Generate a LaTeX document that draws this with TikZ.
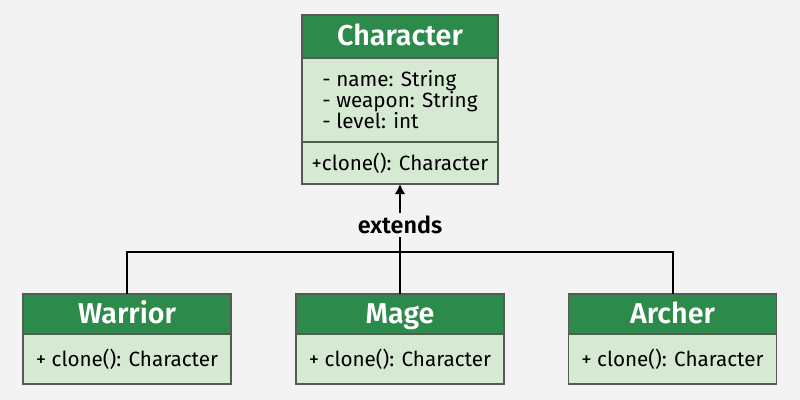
\documentclass[tikz,border=0pt]{standalone}
\usepackage{fontspec}
\setmainfont{Fira Sans}[BoldFont={Fira Sans SemiBold}]
\usepackage{tikz}
\usetikzlibrary{arrows.meta, positioning}

\definecolor{headgreen}{RGB}{44,138,74}
\definecolor{bodygreen}{RGB}{214,233,211}
\definecolor{edgegray}{RGB}{82,92,82}
\definecolor{pagebg}{RGB}{243,243,243}

\begin{document}
\begin{tikzpicture}[
        x=0.75pt, y=-0.75pt,
        node distance=0pt,
        head/.style={rectangle, draw=edgegray, fill=headgreen, line width=0.9pt, outer sep=0pt, text=white, text height=16pt, text depth=2pt, font=\fontsize{21.5}{24}\selectfont\bfseries},
        body/.style={rectangle, draw=edgegray, fill=bodygreen, line width=0.9pt, outer sep=0pt, align=left, font=\fontsize{15.5}{15.75}\selectfont},
        arrow/.style={-{Latex[length=7.5pt, width=8pt]}, line width=1.5pt},
        link/.style={line width=1.5pt}
    ]
    \useasboundingbox[fill=pagebg] (0,0) rectangle (800,400);

    % base class
    \node (charHead) [head, minimum width=147pt, minimum height=32.25pt] at (400,36.5) {Character};
    \node (charAttr) [body, below=of charHead, minimum width=147pt, minimum height=63pt] {- name: String\\- weapon: String\\- level: int};
    \node (charOps) [body, below=of charAttr, minimum width=147pt, minimum height=31.5pt] {+clone(): Character};

    % subclasses
    \node (warHead) [head, minimum width=156pt, minimum height=30pt] at (127,314) {Warrior};
    \node (warOps) [body, below=of warHead, minimum width=156pt, minimum height=37.5pt] {+ clone(): Character};
    \node (mageHead) [head, minimum width=156pt, minimum height=30pt] at (400,314) {Mage};
    \node (mageOps) [body, below=of mageHead, minimum width=156pt, minimum height=37.5pt] {+ clone(): Character};
    \node (archHead) [head, minimum width=156pt, minimum height=30pt] at (672.5,314) {Archer};
    \node (archOps) [body, below=of archHead, minimum width=156pt, minimum height=37.5pt] {+ clone(): Character};

    \coordinate (bus) at (400,252);

    \draw [link] (warHead.north) |- (bus) -| (archHead.north);
    \draw [arrow] (mageHead.north) -- (charOps.south)
        node [pos=0.627, fill=pagebg, inner sep=2pt, font=\fontsize{17.5}{20}\selectfont\bfseries] {extends};

\end{tikzpicture}
\end{document}
